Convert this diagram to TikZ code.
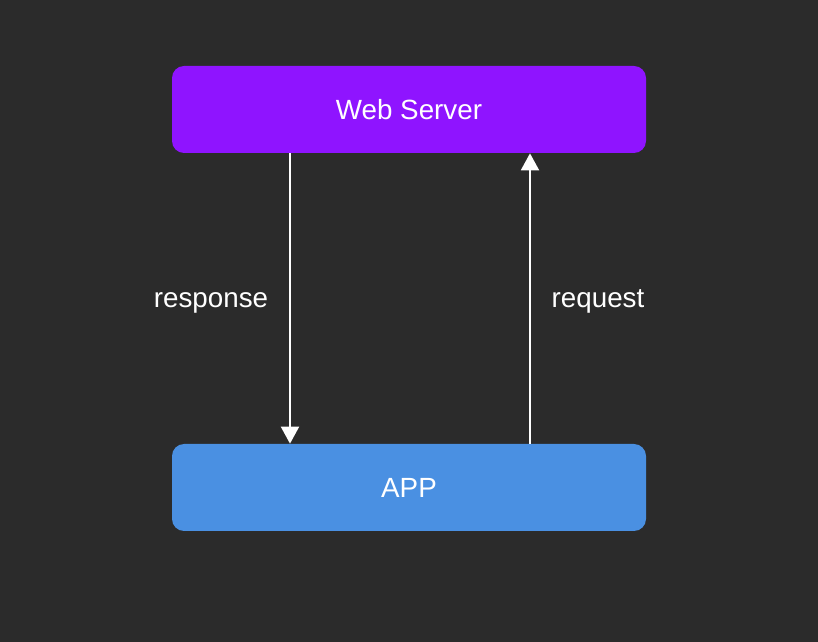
\documentclass[tikz,border=0pt]{standalone}
\usepackage{fontspec}
\setmainfont{Liberation Sans}
\usetikzlibrary{arrows.meta}
\definecolor{bgdark}{HTML}{2B2B2B}
\definecolor{srvpurple}{HTML}{8F14FF}
\definecolor{appblue}{HTML}{4A90E2}
\begin{document}
\begin{tikzpicture}[every node/.style={text=white,font=\fontsize{15.8}{19}\selectfont},
                  box/.style={rounded corners=0.24cm,minimum width=9.48cm,minimum height=1.74cm,inner sep=0pt},
                  flow/.style={white,line width=1.1pt,-{Triangle[width=0.36cm,length=0.34cm]}}]
              \fill[bgdark] (0,0) rectangle (16.36,12.84);
              \useasboundingbox (0,0) rectangle (16.36,12.84);
              \node[box,fill=srvpurple] (web) at (8.18,10.65) {Web Server};
              \node[box,fill=appblue] (app) at (8.18,3.09) {APP};
              \node[anchor=base] (resp) at (4.22,6.69) {response};
              \node[anchor=base] (req) at (11.96,6.69) {request};
              \draw[flow] ([xshift=-2.38cm]web.south) -- ([xshift=-2.38cm]app.north);
              \draw[flow] ([xshift=2.42cm]app.north) -- ([xshift=2.42cm]web.south);
          \end{tikzpicture}
\end{document}
